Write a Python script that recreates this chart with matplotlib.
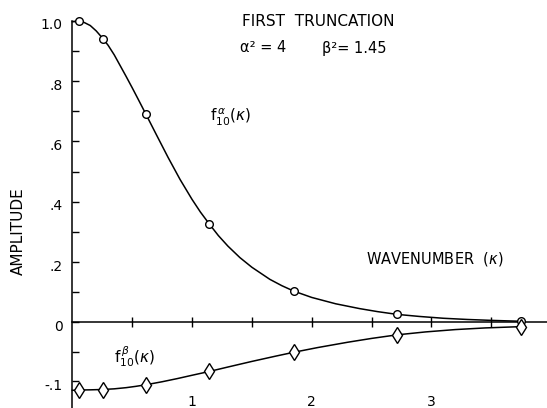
import numpy as np
import matplotlib
matplotlib.use("Agg")
import matplotlib.pyplot as plt
import matplotlib.transforms as mtransforms

plt.rcParams['font.family'] = ['DejaVu Sans']
plt.rcParams['mathtext.fontset'] = 'dejavusans'

# ---- data ----
kappa_pts = [0.06, 0.255, 0.615, 1.145, 1.85, 2.71, 3.75]
alpha_pts = [1.0, 0.941, 0.690, 0.326, 0.104, 0.027, 0.004]
beta_pts = [-0.114, -0.114, -0.1056, -0.083, -0.0505, -0.021, -0.007]

kappa_curve_a = [0.0, 0.06, 0.1, 0.15, 0.2, 0.255, 0.3, 0.35, 0.4, 0.45, 0.5,
                 0.55, 0.615, 0.7, 0.8, 0.9, 1.0, 1.07, 1.145, 1.22, 1.3, 1.4,
                 1.5, 1.65, 1.75, 1.85, 2.0, 2.2, 2.4, 2.55, 2.71, 2.9, 3.1,
                 3.3, 3.5, 3.75]
alpha_curve = [0.997, 0.998, 0.994, 0.984, 0.966, 0.941, 0.918, 0.887, 0.851,
               0.815, 0.778, 0.740, 0.690, 0.624, 0.547, 0.474, 0.408, 0.366,
               0.326, 0.288, 0.253, 0.215, 0.183, 0.143, 0.122, 0.104, 0.083,
               0.062, 0.046, 0.036, 0.027, 0.020, 0.014, 0.010, 0.007, 0.004]

kappa_curve_b = [0.0, 0.06, 0.15, 0.255, 0.35, 0.45, 0.53, 0.615, 0.75, 0.88,
                 1.0, 1.145, 1.3, 1.5, 1.7, 1.85, 2.05, 2.3, 2.5, 2.71, 2.95,
                 3.2, 3.45, 3.75]
beta_curve = [-0.115, -0.1145, -0.1142, -0.1136, -0.1125, -0.1105, -0.1083,
              -0.1056, -0.1005, -0.0950, -0.0895, -0.083, -0.0755, -0.0660,
              -0.0570, -0.0505, -0.0425, -0.0335, -0.0270, -0.0210, -0.0160,
              -0.0120, -0.0092, -0.007]

ytick_vals = [1.0, 0.9, 0.8, 0.7, 0.6, 0.5, 0.4, 0.3, 0.2, 0.1, 0.0, -0.05, -0.1]
ytick_labels = ['1.0', '', '.8', '', '.6', '', '.4', '', '.2', '', '0', '', '-.1']
xtick_vals = [0.5, 1.0, 1.5, 2.0, 2.5, 3.0, 3.5]
xlabel_vals = [1, 2, 3]
xlabel_text = ['1', '2', '3']

# ---- figure ----
W, H = 547, 408
fig = plt.figure(figsize=(W / 100, H / 100), dpi=100)
ax = fig.add_axes([72.3 / W, 0, 1 - 72.3 / W, (H - 20.7) / H])

K = 1.954  # negative part drawn with expanded scale


def fwd(y):
    y = np.asarray(y, float)
    return np.where(y < 0, y * K, y)


def inv(y):
    y = np.asarray(y, float)
    return np.where(y < 0, y / K, y)


ax.set_yscale('function', functions=(fwd, inv))
ax.set_xlim(0, 3.965)
ax.set_ylim(-0.145, 1.0)

ax.plot(kappa_curve_a, alpha_curve, color='black', lw=1.1, clip_on=False,
        solid_joinstyle='round')
ax.plot(kappa_curve_b, beta_curve, color='black', lw=1.1, clip_on=False,
        solid_joinstyle='round')
ax.plot(kappa_pts, alpha_pts, linestyle='none', marker='o', ms=5.5,
        mfc='white', mec='black', mew=1.0, clip_on=False, zorder=3)
ax.plot(kappa_pts, beta_pts, linestyle='none', marker='d', ms=8,
        mfc='white', mec='black', mew=1.0, clip_on=False, zorder=3)

for s in ['top', 'right']:
    ax.spines[s].set_visible(False)
ax.spines['bottom'].set_position(('data', 0))
ax.spines['left'].set_linewidth(1.1)
ax.spines['bottom'].set_linewidth(1.1)

ax.set_yticks(ytick_vals)
ax.set_yticklabels(ytick_labels)
ax.yaxis.set_minor_locator(matplotlib.ticker.NullLocator())
ax.tick_params(axis='y', direction='in', length=5, width=1.0, pad=7,
               labelsize=10)
off = mtransforms.ScaledTranslation(0, -3 / 100, fig.dpi_scale_trans)
for lab in ax.get_yticklabels():
    lab.set_transform(lab.get_transform() + off)

ax.set_xticks(xtick_vals)
ax.xaxis.set_minor_locator(matplotlib.ticker.NullLocator())
ax.tick_params(axis='x', direction='inout', length=7, width=1.0,
               labelbottom=False)

blend = mtransforms.blended_transform_factory(ax.transData, fig.transFigure)
for xv, tx in zip(xlabel_vals, xlabel_text):
    ax.text(xv, 1 - 402 / H, tx, transform=blend, ha='center', va='center',
            fontsize=10)


def ftext(x, y, s, **kw):
    fig.text(x / W, 1 - y / H, s, ha='center', va='center', **kw)


ftext(318, 21, 'FIRST  TRUNCATION', fontsize=11)
ftext(263, 48, 'α² = 4', fontsize=10.5)
ftext(354, 48, 'β²= 1.45', fontsize=10.5)
ftext(231, 117, r'$\mathrm{f}_{\mathrm{10}}^{\,\alpha}(\kappa)$', fontsize=11)
ftext(135, 357, r'$\mathrm{f}_{\mathrm{10}}^{\,\beta}(\kappa)$', fontsize=11)
ftext(435, 259, r'WAVENUMBER  $(\kappa)$', fontsize=10.5)
ftext(18, 231, 'AMPLITUDE', fontsize=11, rotation=90)

fig.savefig('out.png', dpi=100)
